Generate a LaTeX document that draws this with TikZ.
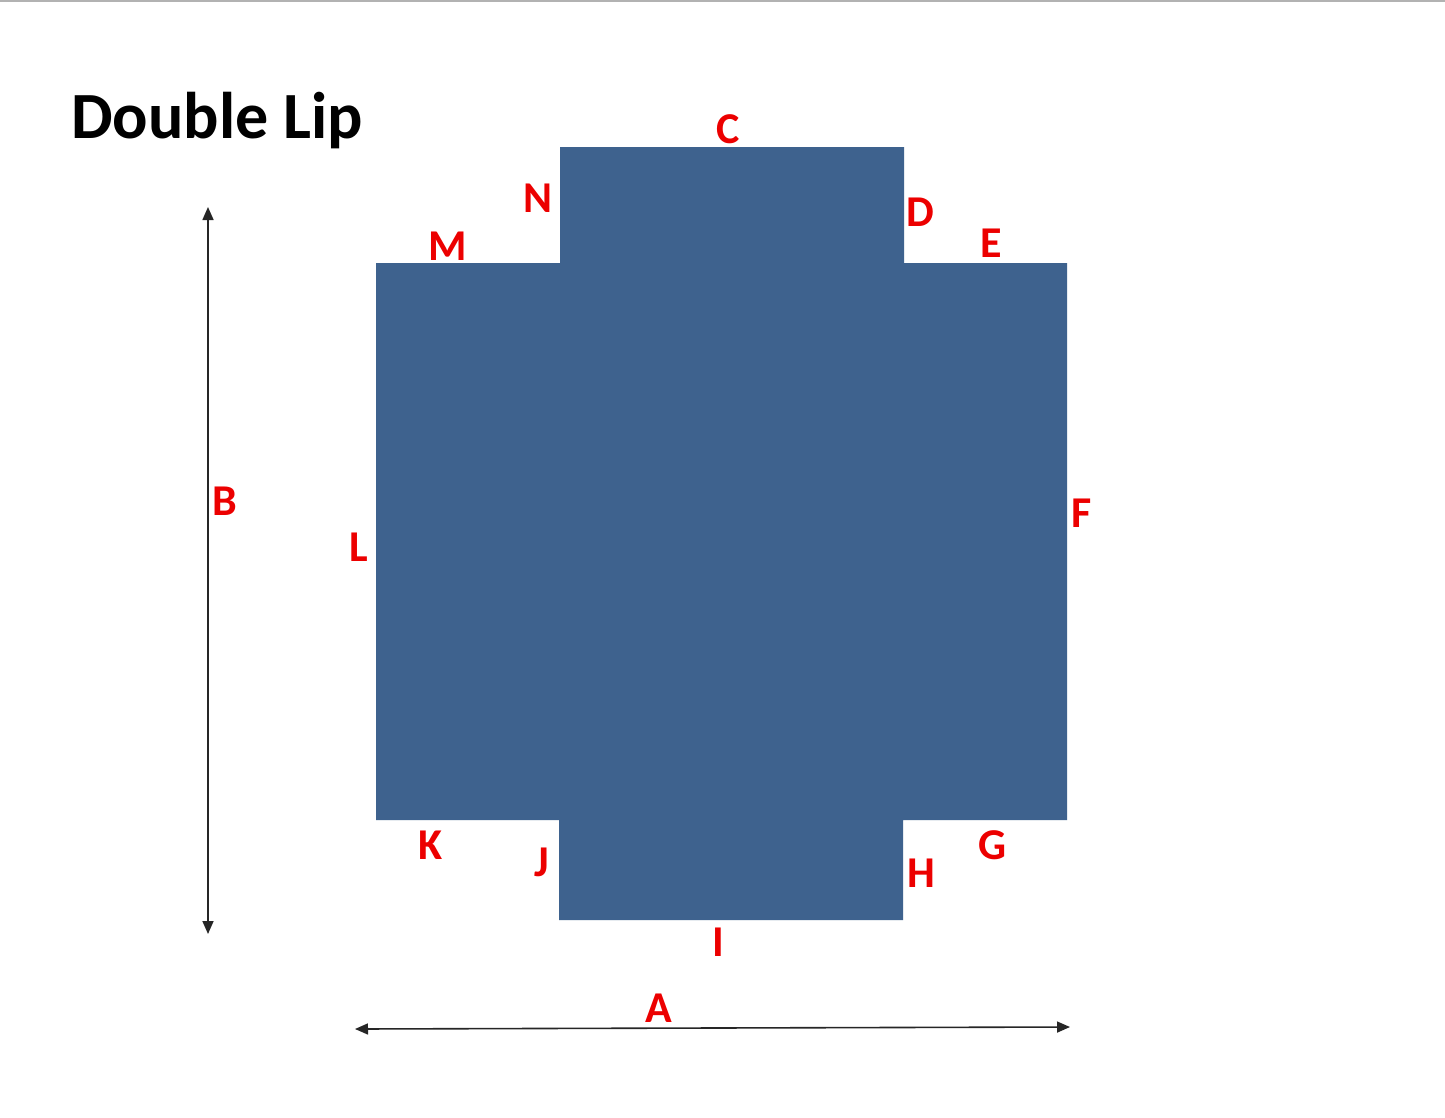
\documentclass[tikz,border=0pt]{standalone}
\usepackage{fontspec}
\setmainfont{Carlito}
\usetikzlibrary{arrows.meta}
\definecolor{lipblue}{RGB}{62,98,142}
\definecolor{lblred}{RGB}{236,0,0}
\begin{document}
\begin{tikzpicture}[x=1pt,y=-1pt,
  lbl/.style={text=lblred,font=\fontsize{44}{44}\selectfont\bfseries,inner sep=0pt},
  dim/.style={line width=1.6pt,black!85,{Triangle[length=13pt,width=11pt]}-{Triangle[length=13pt,width=11pt]}}]
\useasboundingbox (0,0) rectangle (1445,1117);
\fill[white] (0,0) rectangle (1445,1117);
\draw[gray!60,line width=2pt] (0,1) -- (1445,1);
\node[anchor=west,inner sep=0pt,font=\fontsize{66}{66}\selectfont\bfseries] (title) at (71,121) {Double Lip};
\fill[lipblue] (560,147) -- (904,147) -- (904,263) -- (1067,263) -- (1067,820) -- (903,820) -- (903,920) -- (559,920) -- (559,820) -- (376,820) -- (376,263) -- (560,263) -- cycle;
\node[lbl] (C) at (728,129) {C};
\node[lbl] (N) at (538,198) {N};
\node[lbl] (D) at (920,212) {D};
\node[lbl] (M) at (448,246) {M};
\node[lbl] (E) at (991,243) {E};
\node[lbl] (B) at (225,501) {B};
\node[lbl] (L) at (359,547) {L};
\node[lbl] (F) at (1082,513) {F};
\node[lbl] (K) at (431,845) {K};
\node[lbl] (J) at (542,862) {J};
\node[lbl] (G) at (993,845) {G};
\node[lbl] (H) at (921,873) {H};
\node[lbl] (I) at (718,942) {I};
\node[lbl] (A) at (659,1008) {A};
\coordinate (btop) at (208,207);
\coordinate (bbot) at (208,934);
\coordinate (aleft) at (355,1029);
\coordinate (aright) at (1070,1027);
\draw[dim] (btop) -- (bbot);
\draw[dim] (aleft) -- (aright);
\end{tikzpicture}
\end{document}
